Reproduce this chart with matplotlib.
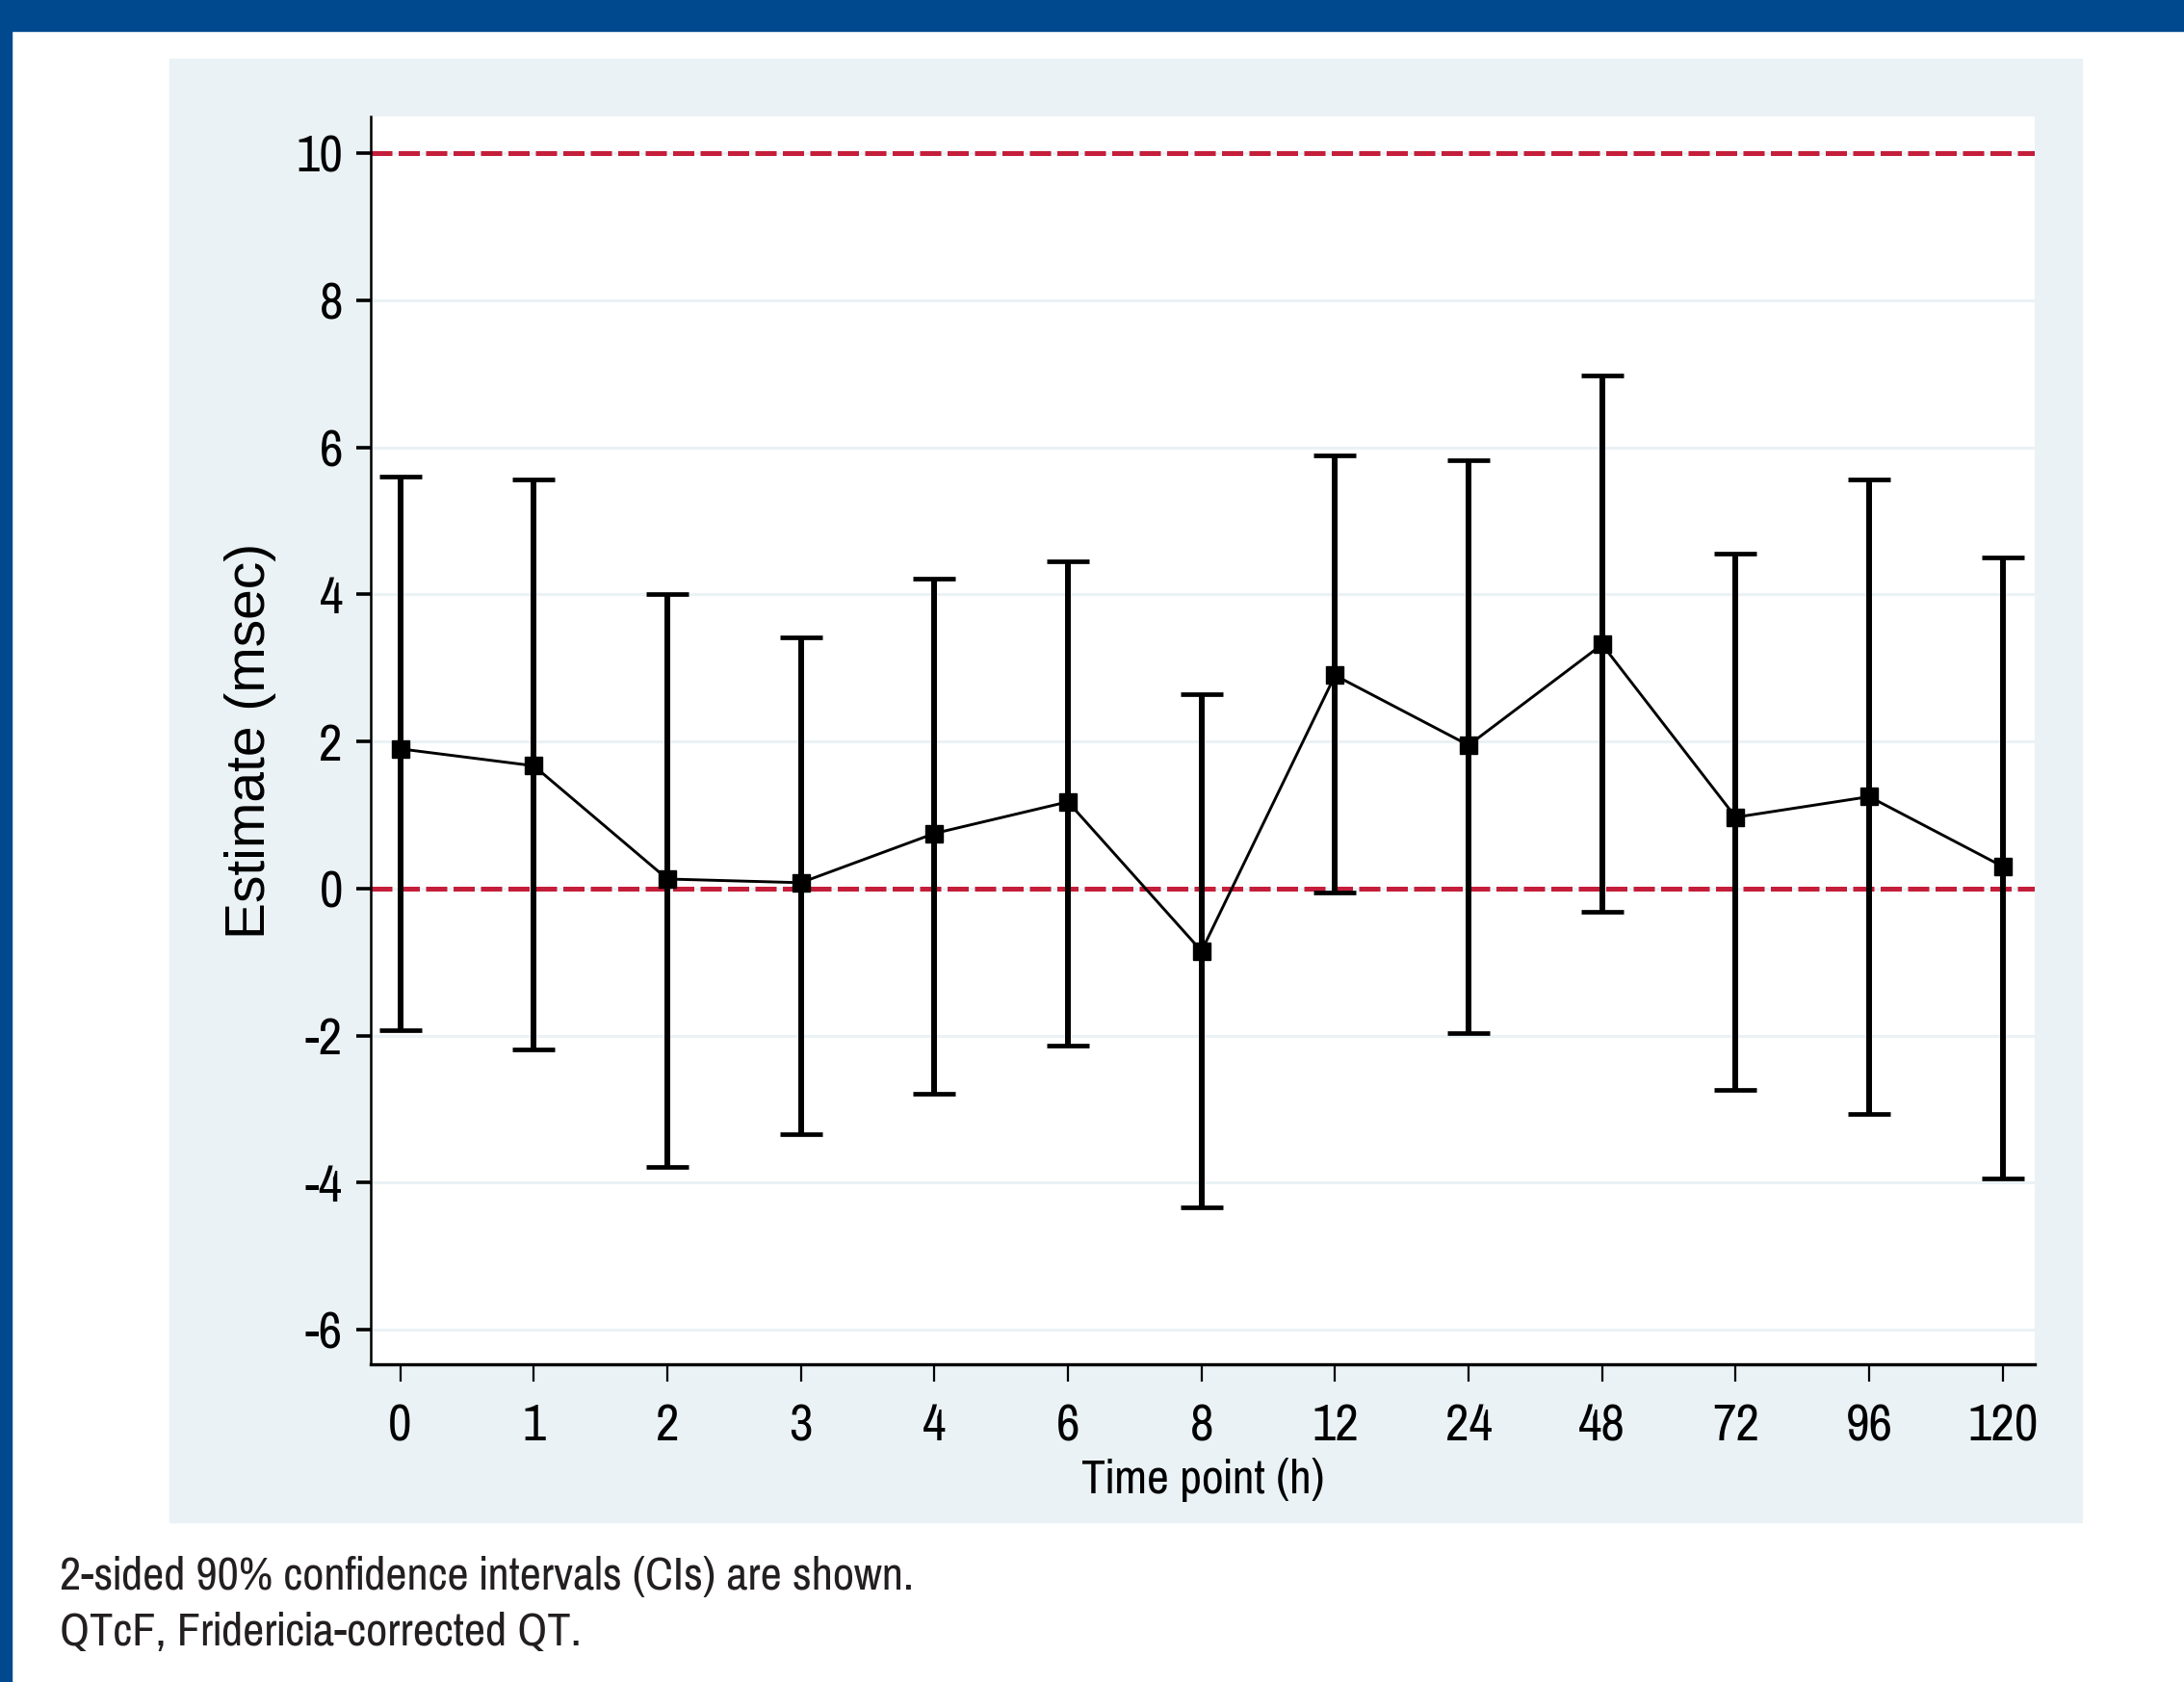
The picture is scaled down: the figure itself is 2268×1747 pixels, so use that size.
import matplotlib
matplotlib.use("Agg")
import matplotlib.pyplot as plt
from matplotlib.patches import Rectangle
from matplotlib import font_manager

# Zeitpunkte (Stunden) und Schätzer mit 90%-KI
time_labels = ["0", "1", "2", "3", "4", "6", "8", "12", "24", "48", "72", "96", "120"]
estimate = [1.90, 1.67, 0.13, 0.08, 0.75, 1.18, -0.85, 2.90, 1.95, 3.32, 0.97, 1.25, 0.30]
ci_upper = [5.60, 5.56, 4.01, 3.41, 4.22, 4.45, 2.65, 5.89, 5.83, 6.98, 4.56, 5.56, 4.50]
ci_lower = [-1.92, -2.19, -3.79, -3.34, -2.79, -2.13, -4.33, -0.06, -1.97, -0.32, -2.74, -3.06, -3.94]
y_ticks = [-6, -4, -2, 0, 2, 4, 6, 8, 10]
ref_lines = [0, 10]

# schmale Schrift suchen, falls vorhanden
narrow = None
for f in font_manager.fontManager.ttflist:
    if f.style != "normal" or f.weight not in (400, "normal", "regular"):
        continue
    if "Narrow" in f.name or "Condensed" in f.name or f.stretch in ("condensed", "semi-condensed"):
        if narrow is None or "Narrow" in f.name:
            narrow = f
if narrow is not None:
    plt.rcParams["font.family"] = [narrow.name, "DejaVu Sans"]
    plt.rcParams["font.stretch"] = narrow.stretch
else:
    plt.rcParams["font.family"] = ["Liberation Sans", "DejaVu Sans"]

blue = "#00498F"
panel = "#EAF2F5"
red = "#C41E3A"

fig = plt.figure(figsize=(22.68, 17.47), dpi=100)
fig.patch.set_facecolor("white")

# Rahmen / Hintergrund
fig.patches.append(Rectangle((0, 0.9817), 1, 0.0183, transform=fig.transFigure,
                             color=blue, zorder=-5))
fig.patches.append(Rectangle((0, 0), 0.0053, 1, transform=fig.transFigure,
                             color=blue, zorder=-5))
fig.patches.append(Rectangle((0.0776, 0.0950), 0.8757, 0.8701, transform=fig.transFigure,
                             color=panel, zorder=-5))

ax = fig.add_axes([0.1698, 0.1889, 0.7619, 0.7418])
ax.set_zorder(2)
ax.set_facecolor("white")

x = list(range(len(time_labels)))
yerr = [[e - lo for e, lo in zip(estimate, ci_lower)],
        [hi - e for e, hi in zip(estimate, ci_upper)]]

for yt in y_ticks:
    ax.axhline(yt, color=panel, lw=2.2, zorder=1)
for yr in ref_lines:
    ax.axhline(yr, color=red, lw=3.6, dashes=(4.4, 1.3), zorder=2)

ax.errorbar(x, estimate, yerr=yerr, fmt="none", ecolor="black", elinewidth=4.3,
            capsize=16, capthick=3.4, zorder=3)
ax.plot(x, estimate, color="black", lw=2.1, marker="s", markersize=13,
        markerfacecolor="black", markeredgecolor="black", zorder=4)

ax.set_xlim(-0.22, 12.24)
ax.set_ylim(-6.47, 10.5)
ax.set_xticks(x)
ax.set_xticklabels(time_labels)
ax.set_yticks(y_ticks)
ax.set_yticklabels([str(v) for v in y_ticks])

for side in ["top", "right"]:
    ax.spines[side].set_visible(False)
ax.spines["left"].set_linewidth(1.8)
ax.spines["bottom"].set_linewidth(2.4)

ax.tick_params(axis="y", length=11, width=2.6, labelsize=42, pad=10)
ax.tick_params(axis="x", length=13, width=1.6, labelsize=42, pad=16)

ax.set_xlabel("Time point (h)", fontsize=39, va="center")
ax.xaxis.set_label_coords(0.5, -0.0926)
ax.set_ylabel("Estimate (msec)", fontsize=41, family=["Liberation Sans", "DejaVu Sans"],
              stretch="normal", va="center")
ax.yaxis.set_label_coords(-0.0723, 0.5)

fig.text(0.0273, 0.0550, "2-sided 90% confidence intervals (CIs) are shown.",
         fontsize=38, color="#231F20", va="baseline")
fig.text(0.0273, 0.0218, "QTcF, Fridericia-corrected QT.",
         fontsize=38, color="#231F20", va="baseline")

fig.savefig("out.png", dpi=100)
